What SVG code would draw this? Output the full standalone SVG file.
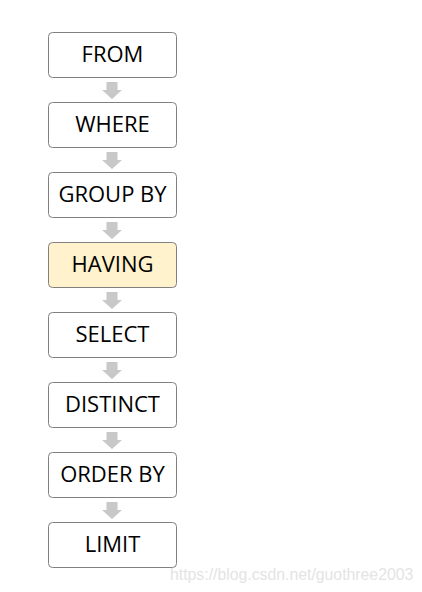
<svg xmlns="http://www.w3.org/2000/svg" width="422" height="592" viewBox="0 0 422 592">
<style>
.box{fill:#ffffff;stroke:#808080;stroke-width:1}
.hl{fill:#fff2cc}
.t{font-family:"Open Sans","Liberation Sans",sans-serif;font-size:22px;fill:#000;text-anchor:middle;dominant-baseline:central}
.arr{fill:#c8c8c8}
.wm{font-family:"Liberation Sans",Arial,sans-serif;font-size:15.8px;fill:#e4e4e4}
</style>
<defs>
<path id="a" d="M106.5 0 H117.5 V8 H122 L112 17 L102 8 H106.5 Z"/>
</defs>
<rect width="422" height="592" fill="#ffffff"/>
<g id="connectors">
<use href="#a" class="arr" y="82"/>
<use href="#a" class="arr" y="152"/>
<use href="#a" class="arr" y="222"/>
<use href="#a" class="arr" y="292"/>
<use href="#a" class="arr" y="362"/>
<use href="#a" class="arr" y="432"/>
<use href="#a" class="arr" y="502"/>
</g>
<g id="from"><rect class="box" x="48.5" y="32.5" width="128" height="45" rx="4"/><text class="t" x="112.5" y="53">FROM</text></g>
<g id="where"><rect class="box" x="48.5" y="102.5" width="128" height="45" rx="4"/><text class="t" x="112.5" y="123">WHERE</text></g>
<g id="groupby"><rect class="box" x="48.5" y="172.5" width="128" height="45" rx="4"/><text class="t" x="112.5" y="193">GROUP BY</text></g>
<g id="having"><rect class="box hl" x="48.5" y="242.5" width="128" height="45" rx="4"/><text class="t" x="112.5" y="263">HAVING</text></g>
<g id="select"><rect class="box" x="48.5" y="312.5" width="128" height="45" rx="4"/><text class="t" x="112.5" y="333">SELECT</text></g>
<g id="distinct"><rect class="box" x="48.5" y="382.5" width="128" height="45" rx="4"/><text class="t" x="112.5" y="403">DISTINCT</text></g>
<g id="orderby"><rect class="box" x="48.5" y="452.5" width="128" height="45" rx="4"/><text class="t" x="112.5" y="473">ORDER BY</text></g>
<g id="limit"><rect class="box" x="48.5" y="522.5" width="128" height="45" rx="4"/><text class="t" x="112.5" y="543">LIMIT</text></g>
<text class="wm" x="170" y="580">https://blog.csdn.net/guothree2003</text>
</svg>
